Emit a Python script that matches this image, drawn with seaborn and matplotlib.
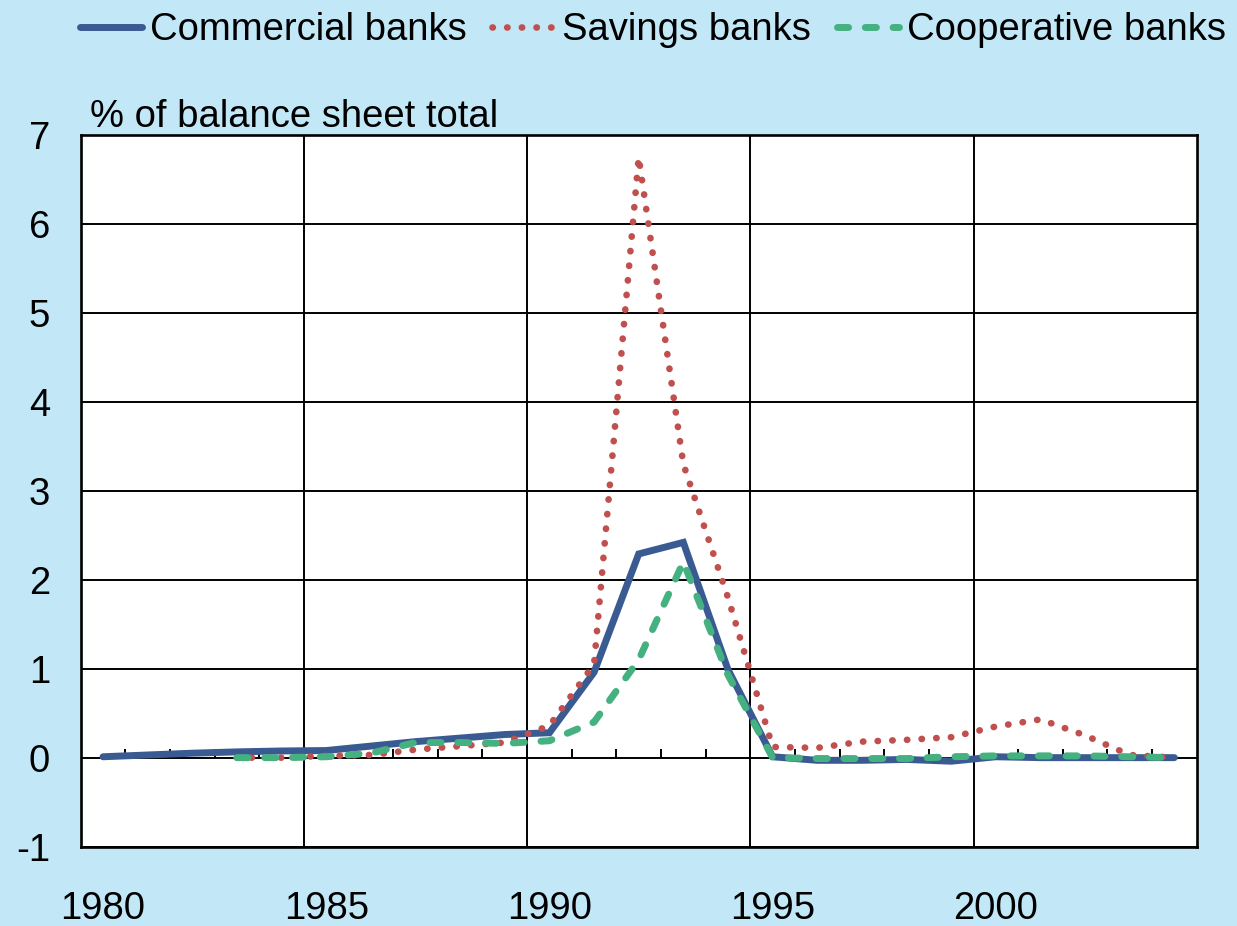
import numpy as np
import pandas as pd
import matplotlib
matplotlib.use("Agg")
import matplotlib.pyplot as plt
import seaborn as sns

# ---- data ----
years = list(range(1980, 2005))
commercial = [0.01, 0.03, 0.05, 0.065, 0.075, 0.08, 0.13, 0.18, 0.22, 0.26, 0.28,
              0.96, 2.29, 2.42, 0.99, 0.01, -0.03, -0.03, -0.02, -0.04, 0.01,
              0.0, 0.0, 0.0, 0.0]
years_sc = list(range(1983, 2005))
savings = [0.0, 0.0, 0.02, 0.03, 0.09, 0.13, 0.17, 0.36, 1.05, 6.75, 3.3, 1.8,
           0.12, 0.11, 0.18, 0.2, 0.23, 0.35, 0.43, 0.25, 0.03, 0.0]
cooperative = [0.0, 0.0, 0.01, 0.05, 0.17, 0.17, 0.16, 0.19, 0.4, 1.1, 2.2, 0.93,
               0.0, -0.01, -0.01, -0.01, 0.01, 0.02, 0.02, 0.02, 0.01, 0.0]
series_names = ["Commercial banks", "Savings banks", "Cooperative banks"]
xtick_years = [1980, 1985, 1990, 1995, 2000]
yticks = [-1, 0, 1, 2, 3, 4, 5, 6, 7]
ylabel_text = "% of balance sheet total"

# ---- style ----
sns.set_theme(style="white")
plt.rcParams["font.family"] = ["Liberation Sans", "DejaVu Sans"]
plt.rcParams["axes.unicode_minus"] = False
plt.rcParams["text.color"] = "black"
plt.rcParams["legend.labelcolor"] = "black"

bg = "#C2E8F8"
blue = "#3A5B92"
red = "#C0504D"
green = "#45B080"
FS = 27.5

W, H = 1237, 926
fig = plt.figure(figsize=(W / 100, H / 100), dpi=100, facecolor=bg)
ax = fig.add_axes([80.7 / W, 1 - 846.6 / H, 1116 / W, 711.6 / H])
ax.set_facecolor("white")

df_c = pd.DataFrame({"year": years, "value": commercial})
df_s = pd.DataFrame({"year": years_sc, "value": savings})
df_k = pd.DataFrame({"year": years_sc, "value": cooperative})

sns.lineplot(data=df_c, x="year", y="value", ax=ax, color=blue, linewidth=5.0,
             solid_capstyle="round", solid_joinstyle="miter", label=series_names[0], zorder=3)
sns.lineplot(data=df_s, x="year", y="value", ax=ax, color=red, linewidth=4.8,
             linestyle=(0, (0.05, 2.15)), dash_capstyle="round",
             label=series_names[1], zorder=4)
sns.lineplot(data=df_k, x="year", y="value", ax=ax, color=green, linewidth=5.0,
             linestyle=(0, (1.6, 2.4)), dash_capstyle="round",
             label=series_names[2], zorder=5)

ax.set_xlim(1979.5, 2004.5)
ax.set_ylim(-1, 7)

# grid
ax.set_yticks(yticks)
ax.set_yticklabels([str(v) for v in yticks])
ax.set_xticks(xtick_years)
ax.set_xticklabels([str(v) for v in xtick_years])
ax.set_xticks([y - 0.5 for y in xtick_years[1:]], minor=True)
ax.grid(False)
ax.yaxis.grid(True, color="black", linewidth=1.4, zorder=1)
ax.xaxis.grid(True, which="minor", color="black", linewidth=1.4, zorder=1)
ax.set_axisbelow(True)

# small category tick marks on the zero line
bounds = np.arange(years[0] + 0.5, years[-1], 1.0)
ax.vlines(bounds, 0, 0.1, color="black", linewidth=1.4, zorder=2)

for s in ax.spines.values():
    s.set_color("black")
    s.set_linewidth(1.9)

ax.tick_params(axis="y", length=0, pad=22, labelsize=FS, colors="black")
ax.tick_params(axis="x", which="both", length=0, pad=32, labelsize=FS, colors="black")
ax.set_xlabel("")
ax.set_ylabel("")

ax.text(0.008, 1.011, ylabel_text, transform=ax.transAxes, fontsize=FS,
        ha="left", va="baseline", color="black")

handles, labels = ax.get_legend_handles_labels()
if ax.get_legend() is not None:
    ax.get_legend().remove()
fig.legend(handles, labels, loc="center", bbox_to_anchor=(653 / W, 1 - 30 / H),
           ncol=3, frameon=False, fontsize=FS, handlelength=1.63,
           handletextpad=0.2, columnspacing=0.68, borderaxespad=0, borderpad=0,
           labelcolor="black")

fig.savefig("out.png", dpi=100, facecolor=bg)
